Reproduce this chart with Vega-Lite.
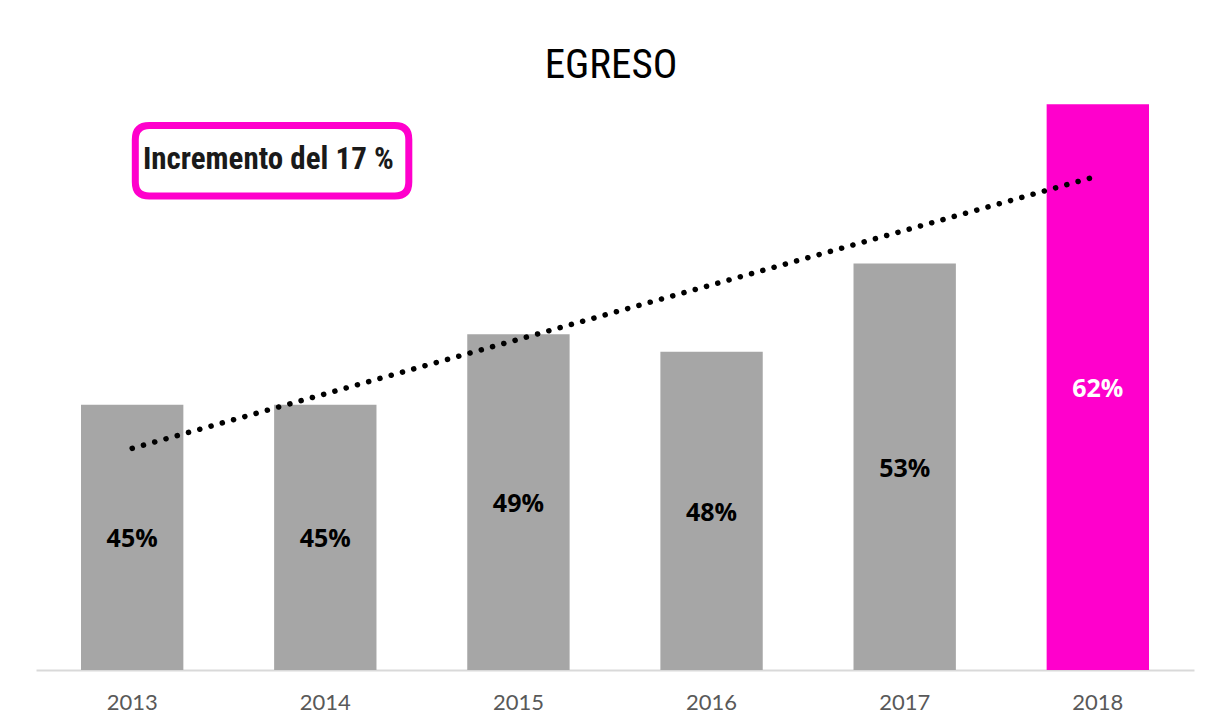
{
  "$schema": "https://vega.github.io/schema/vega-lite/v6.json",
  "width": 1158,
  "height": 601,
  "autosize": {"type": "none"},
  "padding": {"left": 36, "top": 69, "right": 26, "bottom": 58},
  "background": "white",
  "config": {"view": {"stroke": null}},
  "title": {
    "text": "EGRESO",
    "font": "Liberation Sans Narrow, Roboto Condensed, Arial Narrow, sans-serif",
    "fontSize": 41,
    "fontWeight": "normal",
    "color": "#000000",
    "anchor": "middle",
    "baseline": "alphabetic",
    "offset": -50,
    "dx": -4
  },
  "datasets": {
    "bars": [
      {"year": "2013", "value": 45, "label": "45%"},
      {"year": "2014", "value": 45, "label": "45%"},
      {"year": "2015", "value": 49, "label": "49%"},
      {"year": "2016", "value": 48, "label": "48%"},
      {"year": "2017", "value": 53, "label": "53%"},
      {"year": "2018", "value": 62, "label": "62%"}
    ],
    "trend": [
      {"year": "2013", "trend": 42.54},
      {"year": "2018", "trend": 57.95}
    ],
    "note": [
      {"year": "2014", "pos": 58.81, "text": "Incremento del 17 %"}
    ]
  },
  "layer": [
    {
      "data": {"name": "bars"},
      "mark": {"type": "bar"},
      "encoding": {
        "x": {
          "field": "year",
          "type": "ordinal",
          "title": null,
          "scale": {"paddingInner": 0.47, "paddingOuter": 0.233},
          "axis": {
            "labelAngle": 0,
            "labelFont": "Lato",
            "labelFontSize": 22,
            "labelColor": "#595959",
            "labelPadding": 22,
            "ticks": false,
            "domainColor": "#D9D9D9",
            "domainWidth": 2
          }
        },
        "y": {
          "field": "value",
          "type": "quantitative",
          "scale": {"domain": [30, 64], "zero": false, "nice": false},
          "axis": null
        },
        "y2": {"datum": 30},
        "color": {
          "condition": {"test": "datum.year === '2018'", "value": "#FF00CC"},
          "value": "#A6A6A6"
        }
      }
    },
    {
      "data": {"name": "bars"},
      "mark": {"type": "text", "font": "Open Sans", "fontSize": 25, "fontWeight": "bold", "baseline": "middle", "align": "center", "yOffset": 2},
      "encoding": {
        "x": {"field": "year", "type": "ordinal"},
        "y": {
          "field": "value",
          "type": "quantitative",
          "scale": {"domain": [30, 98], "zero": false, "nice": false},
          "axis": null
        },
        "text": {"field": "label"},
        "color": {
          "condition": {"test": "datum.year === '2018'", "value": "#FFFFFF"},
          "value": "#000000"
        }
      }
    },
    {
      "data": {"name": "trend"},
      "mark": {"type": "line", "color": "#000000", "strokeWidth": 5.5, "strokeCap": "round", "strokeDash": [0.1, 11.6]},
      "encoding": {
        "x": {"field": "year", "type": "ordinal"},
        "y": {
          "field": "trend",
          "type": "quantitative",
          "scale": {"domain": [30, 64], "zero": false, "nice": false},
          "axis": null
        }
      }
    },
    {
      "data": {"name": "note"},
      "mark": {
        "type": "point",
        "shape": "M -0.8976 -0.2578 L 0.8976 -0.2578 Q 1 -0.2578 1 -0.1554 L 1 0.1554 Q 1 0.2578 0.8976 0.2578 L -0.8976 0.2578 Q -1 0.2578 -1 0.1554 L -1 -0.1554 Q -1 -0.2578 -0.8976 -0.2578 Z",
        "size": 74802,
        "filled": true,
        "fill": "#FFFFFF",
        "stroke": "#FF00CC",
        "strokeWidth": 7,
        "opacity": 1,
        "fillOpacity": 1,
        "strokeOpacity": 1,
        "xOffset": -53.25
      },
      "encoding": {
        "x": {"field": "year", "type": "ordinal"},
        "y": {
          "field": "pos",
          "type": "quantitative",
          "scale": {"domain": [30, 64], "zero": false, "nice": false},
          "axis": null
        }
      }
    },
    {
      "data": {"name": "note"},
      "mark": {
        "type": "text",
        "font": "Liberation Sans Narrow, Roboto Condensed, Arial Narrow, sans-serif",
        "fontSize": 31,
        "fontWeight": "bold",
        "color": "#1A1A1A",
        "align": "center",
        "baseline": "middle",
        "xOffset": -57,
        "yOffset": -1
      },
      "encoding": {
        "x": {"field": "year", "type": "ordinal"},
        "y": {
          "field": "pos",
          "type": "quantitative",
          "scale": {"domain": [30, 64], "zero": false, "nice": false},
          "axis": null
        },
        "text": {"field": "text"}
      }
    }
  ],
  "resolve": {"scale": {"y": "independent"}}
}
